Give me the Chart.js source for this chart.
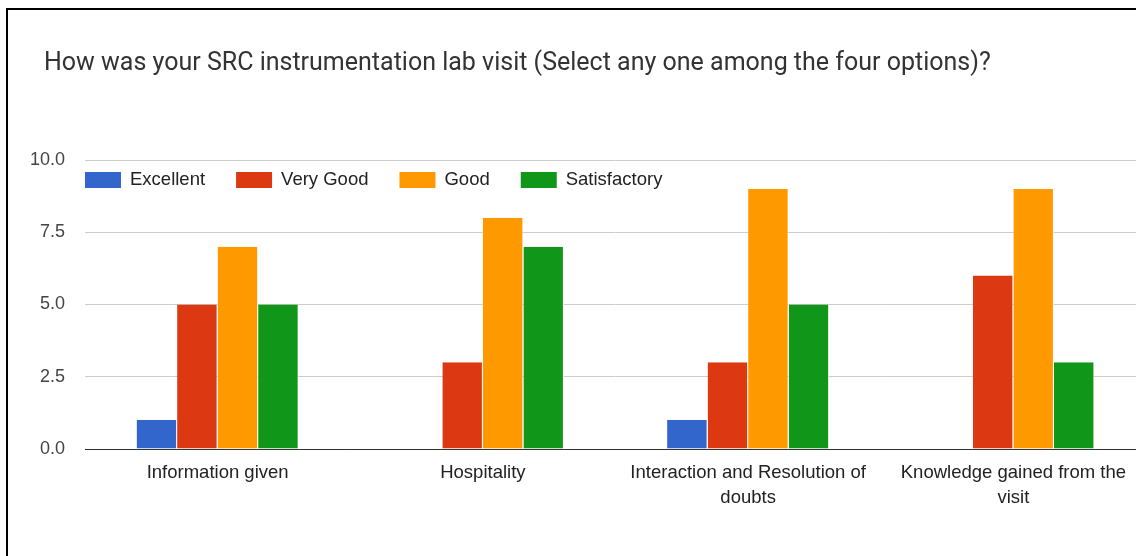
<!DOCTYPE html>
<html>
<head>
<meta charset="utf-8">
<script src="https://cdn.jsdelivr.net/npm/chart.js@4/dist/chart.umd.min.js"></script>
<style>
	html, body { margin: 0; padding: 0; background: #fff; overflow: hidden; width: 1136px; height: 556px; }
	#cornice { position: absolute; left: 6px; top: 8px; width: 2000px; height: 1000px; border: 2px solid #000; pointer-events: none; }
	#grafico { position: absolute; left: 0; top: 0; }
</style>
</head>
<body>
<canvas id="grafico" width="1146" height="556"></canvas>
<div id="cornice"></div>
<script>
	// dati
	var titolo = 'How was your SRC instrumentation lab visit (Select any one among the four options)?';
	var categorie = ['Information given', 'Hospitality', ['Interaction and Resolution of', 'doubts'], ['Knowledge gained from the', 'visit']];
	var serie = ['Excellent', 'Very Good', 'Good', 'Satisfactory'];
	var excellent = [1, 0, 1, 0];
	var veryGood = [5, 3, 3, 6];
	var good = [7, 8, 9, 9];
	var satisfactory = [5, 7, 5, 3];
	var colori = ['#3366cc', '#dc3912', '#ff9900', '#109618'];
	var valori = [excellent, veryGood, good, satisfactory];

	var datasets = [];
	for (var i = 0; i < serie.length; i++) {
		datasets.push({
			label: serie[i],
			data: valori[i],
			backgroundColor: colori[i],
			borderColor: '#ffffff',
			borderWidth: {top: 0, right: 1, bottom: 0, left: 0},
			borderSkipped: false,
			categoryPercentage: 0.611,
			barPercentage: 1.0
		});
	}

	// titolo e legenda disegnati a mano (la legenda sta dentro l'area del grafico)
	var titoloELegenda = {
		id: 'titoloELegenda',
		afterDraw: function (chart) {
			var ctx = chart.ctx;
			var area = chart.chartArea;
			ctx.save();
			ctx.textBaseline = 'middle';
			ctx.textAlign = 'left';

			ctx.font = '25px Roboto, Arial, sans-serif';
			ctx.fillStyle = '#333';
			ctx.fillText(titolo, 44, 64);

			var x = area.left;
			var y = area.top + 20;
			ctx.font = '18.5px "Liberation Sans", Arial, sans-serif';
			chart.data.datasets.forEach(function (ds) {
				ctx.fillStyle = ds.backgroundColor;
				ctx.fillRect(x, y - 8, 36, 16);
				x += 36 + 9;
				ctx.fillStyle = '#222';
				ctx.fillText(ds.label, x, y);
				x += ctx.measureText(ds.label).width + 31;
			});
			ctx.restore();
		}
	};

	var ctx = document.getElementById('grafico');
	var chart = new Chart(ctx, {
		type: 'bar',
		data: {
			labels: categorie,
			datasets: datasets
		},
		options: {
			responsive: false,
			animation: false,
			layout: {padding: {left: 0, right: 0, top: 160, bottom: 0}},
			plugins: {
				legend: {display: false},
				tooltip: {enabled: false},
				title: {display: false}
			},
			scales: {
				x: {
					grid: {display: false},
					border: {display: true, color: '#333', width: 1},
					ticks: {
						color: '#222',
						padding: 3,
						maxRotation: 0,
						autoSkip: false,
						font: {family: '"Liberation Sans", Arial, sans-serif', size: 18.5, lineHeight: 1.35}
					},
					afterFit: function (scale) { scale.height = 107; }
				},
				y: {
					min: 0,
					max: 10,
					border: {display: false},
					grid: {
						drawTicks: false,
						color: function (c) { return c.tick && c.tick.value === 0 ? '#333' : '#cccccc'; }
					},
					ticks: {
						stepSize: 2.5,
						padding: 20,
						color: '#444',
						font: {family: '"Liberation Sans", Arial, sans-serif', size: 18},
						callback: function (v) { return v.toFixed(1); }
					},
					afterFit: function (scale) { scale.width = 85; }
				}
			}
		},
		plugins: [titoloELegenda]
	});
</script>
</body>
</html>
